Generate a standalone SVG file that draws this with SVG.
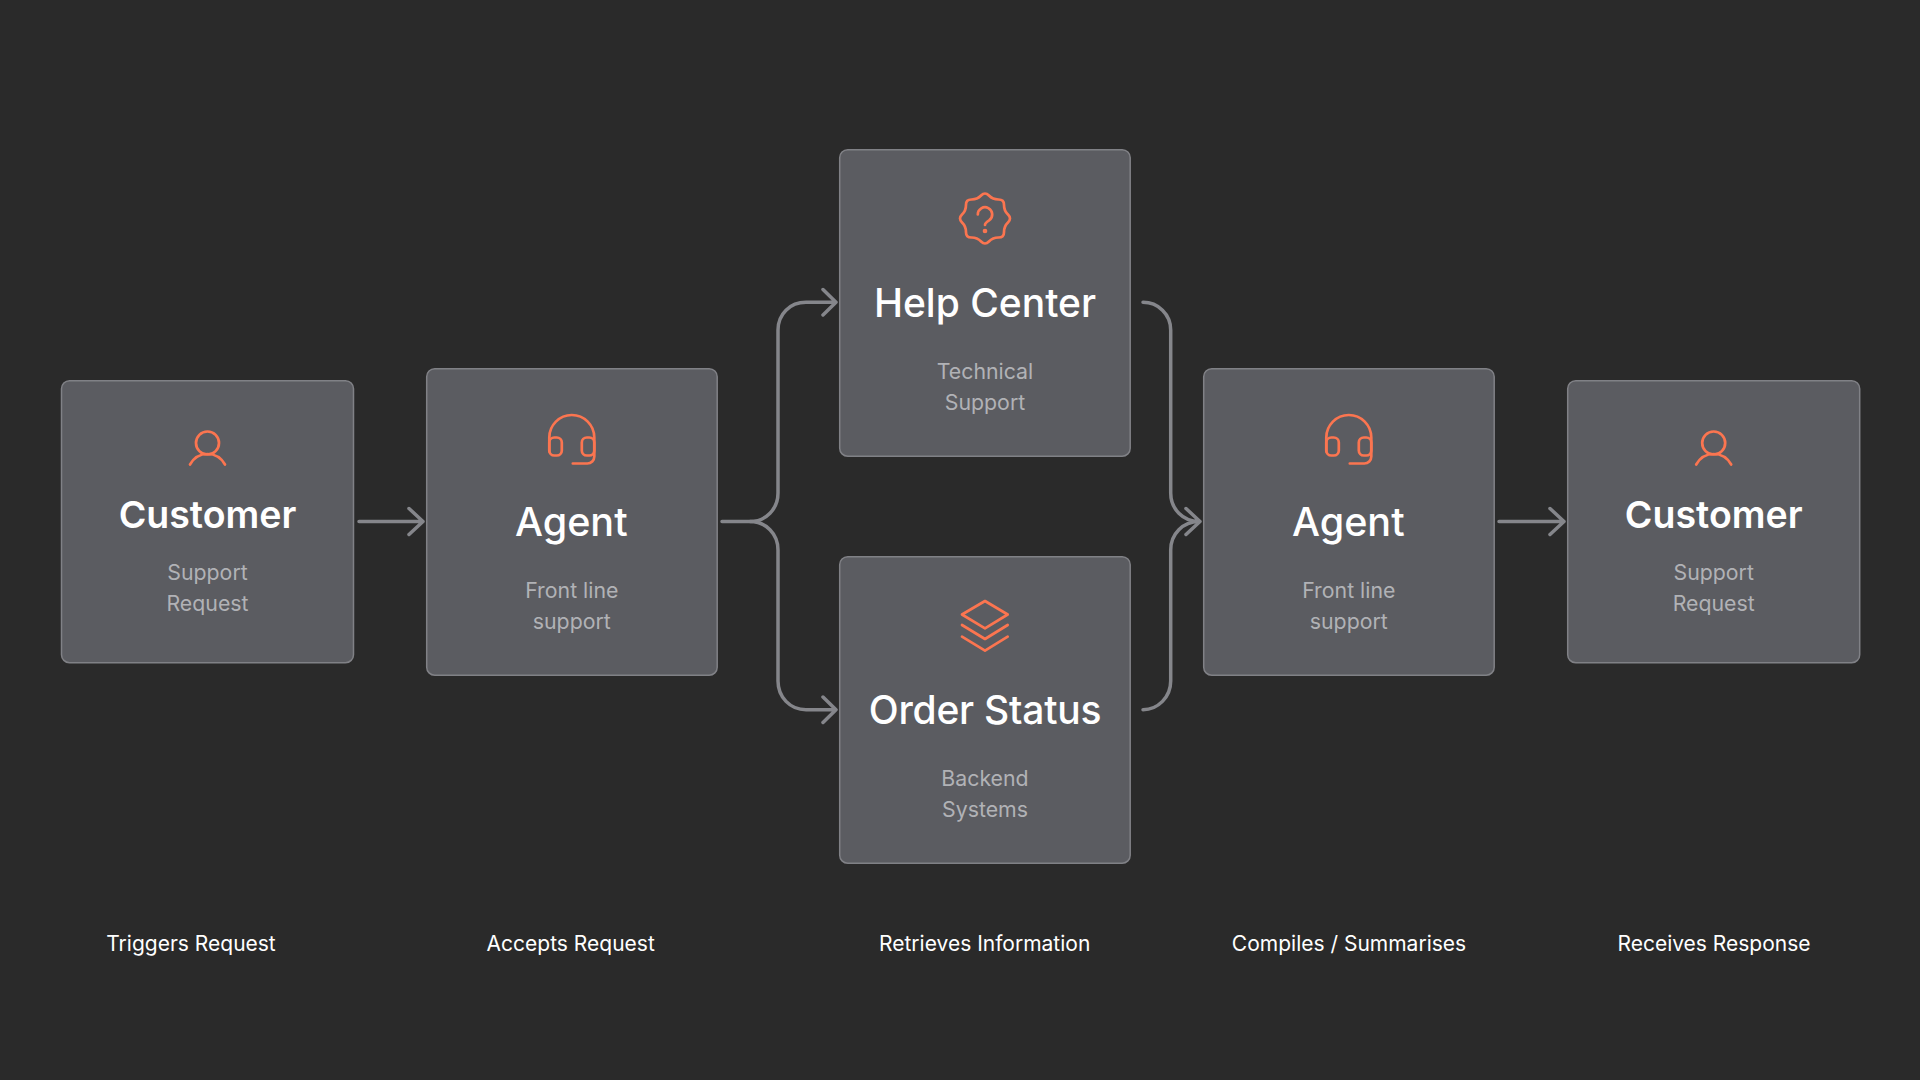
<svg xmlns="http://www.w3.org/2000/svg" width="1920" height="1080" viewBox="0 0 1920 1080">
<style>
text{font-family:"Inter","Liberation Sans",sans-serif;text-anchor:middle}
.box{fill:#5b5c61;stroke:#808186;stroke-width:1.5}
.t{fill:#fff;font-size:39px;font-weight:500}
.o{letter-spacing:-0.25px}
.c{fill:#fff;font-size:37.500px;font-weight:600}
.s{fill:#b1b2b6;font-size:21.300px;font-weight:400}
.l{fill:#fff;font-size:21px;font-weight:400}
.i{fill:none;stroke:#fb7550;stroke-width:2.700;stroke-linecap:round;stroke-linejoin:round}
.a{fill:none;stroke:#85868b;stroke-width:3.500;stroke-linecap:round;stroke-linejoin:round}
</style>
<defs>
<g id="person" class="i"><circle cx="0" cy="-0.5" r="11.500"/><path d="M-17.500 21C-13 13-7 10.500 0 10.500S13 13 17.500 21"/></g>
<g id="headset" class="i"><path d="M-22.500 36V22A22.500 22.500 0 0 1 22.500 22V41A7 7 0 0 1 15.500 48H1"/><rect x="-22.500" y="22" width="12.500" height="18" rx="5"/><rect x="10" y="22" width="12.500" height="18" rx="5"/></g>
</defs>
<rect width="1920" height="1080" fill="#2a2a2a"/>
<g id="connectors" class="a">
<path d="M359 521.500H422M409 508.500L423 521.500L409 534.500"/>
<path d="M722 521.500H750C766 521.500 778 509 778 493V330C778 314 790 302.300 806 302.300H835M823 289.500L836 302.300L823 315"/>
<path d="M750 521.500C766 521.500 778 534 778 550V681C778 697 790 709.700 806 709.700H835M823 697L836 709.700L823 722.500"/>
<path d="M1143 302.300C1158 302.300 1170.700 314 1170.700 330V493C1170.700 509 1183 521.500 1199 521.500M1186 508.500L1200 521.500L1186 534.500"/>
<path d="M1143 709.700C1158 709.700 1170.700 697 1170.700 681V550C1170.700 534 1183 521.500 1199 521.500"/>
<path d="M1499 521.500H1563M1550 508.500L1564 521.500L1550 534.500"/>
</g>
<g id="customer-1">
<rect class="box" x="61.500" y="380.700" width="292" height="282" rx="8"/>
<use href="#person" x="207.500" y="443.500"/>
<text class="c" x="207.500" y="528">Customer</text>
<text class="s" x="207.500" y="579.500">Support</text>
<text class="s" x="207.500" y="610.500">Request</text>
</g>
<g id="agent-1">
<rect class="box" x="426.700" y="368.700" width="290.500" height="306.500" rx="8"/>
<use href="#headset" x="571.800" y="415.500"/>
<text class="t" x="571.300" y="536.300" style="font-size:39.500px">Agent</text>
<text class="s" x="571.800" y="597.800">Front line</text>
<text class="s" x="571.800" y="628.800">support</text>
</g>
<g id="help-center">
<rect class="box" x="839.700" y="149.700" width="290.500" height="306.500" rx="8"/>
<g class="i" transform="translate(985 218.500)">
<path d="M3.930 -22.970Q7.850 -18.940 13.480 -19.020Q19.100 -19.100 19.020 -13.480Q18.940 -7.850 22.970 -3.930Q27 0 22.970 3.930Q18.940 7.850 19.020 13.480Q19.100 19.100 13.480 19.020Q7.850 18.940 3.930 22.970Q0 27 -3.930 22.970Q-7.850 18.940 -13.480 19.020Q-19.100 19.100 -19.020 13.480Q-18.940 7.850 -22.970 3.930Q-27 0 -22.970 -3.930Q-18.940 -7.850 -19.020 -13.480Q-19.100 -19.100 -13.480 -19.020Q-7.850 -18.940 -3.930 -22.970Q0 -27 3.930 -22.970Z"/>
<path d="M-7.200 -4A7.200 7.200 0 1 1 4.100 1.900C1.500 3.500 0 4.500 0 6.500"/>
<circle cx="0" cy="12.500" r="1" fill="#fb7550"/>
</g>
<text class="t" x="985" y="317">Help Center</text>
<text class="s" x="985" y="379">Technical</text>
<text class="s" x="985" y="410">Support</text>
</g>
<g id="order-status">
<rect class="box" x="839.700" y="556.700" width="290.500" height="306.500" rx="8"/>
<g class="i"><path d="M985 601L1007.700 614.500L985 628.300L962 614.500Z"/><path d="M962 625L985 639L1007.700 625"/><path d="M962 636.700L985 650.700L1007.700 636.700"/></g>
<text class="t o" x="985" y="724.300">Order Status</text>
<text class="s" x="985" y="785.700">Backend</text>
<text class="s" x="985" y="816.700">Systems</text>
</g>
<g id="agent-2">
<rect class="box" x="1203.700" y="368.700" width="290.500" height="306.500" rx="8"/>
<use href="#headset" x="1348.800" y="415.500"/>
<text class="t" x="1348.300" y="536.300" style="font-size:39.500px">Agent</text>
<text class="s" x="1348.800" y="597.800">Front line</text>
<text class="s" x="1348.800" y="628.800">support</text>
</g>
<g id="customer-2">
<rect class="box" x="1567.700" y="380.700" width="292" height="282" rx="8"/>
<use href="#person" x="1713.700" y="443.500"/>
<text class="c" x="1713.700" y="528">Customer</text>
<text class="s" x="1713.700" y="579.500">Support</text>
<text class="s" x="1713.700" y="610.500">Request</text>
</g>
<g id="captions">
<text class="l" x="191" y="951">Triggers Request</text>
<text class="l" x="570.700" y="951">Accepts Request</text>
<text class="l" x="984.700" y="951">Retrieves Information</text>
<text class="l" x="1349" y="951">Compiles / Summarises</text>
<text class="l" x="1714" y="951">Receives Response</text>
</g>
</svg>
